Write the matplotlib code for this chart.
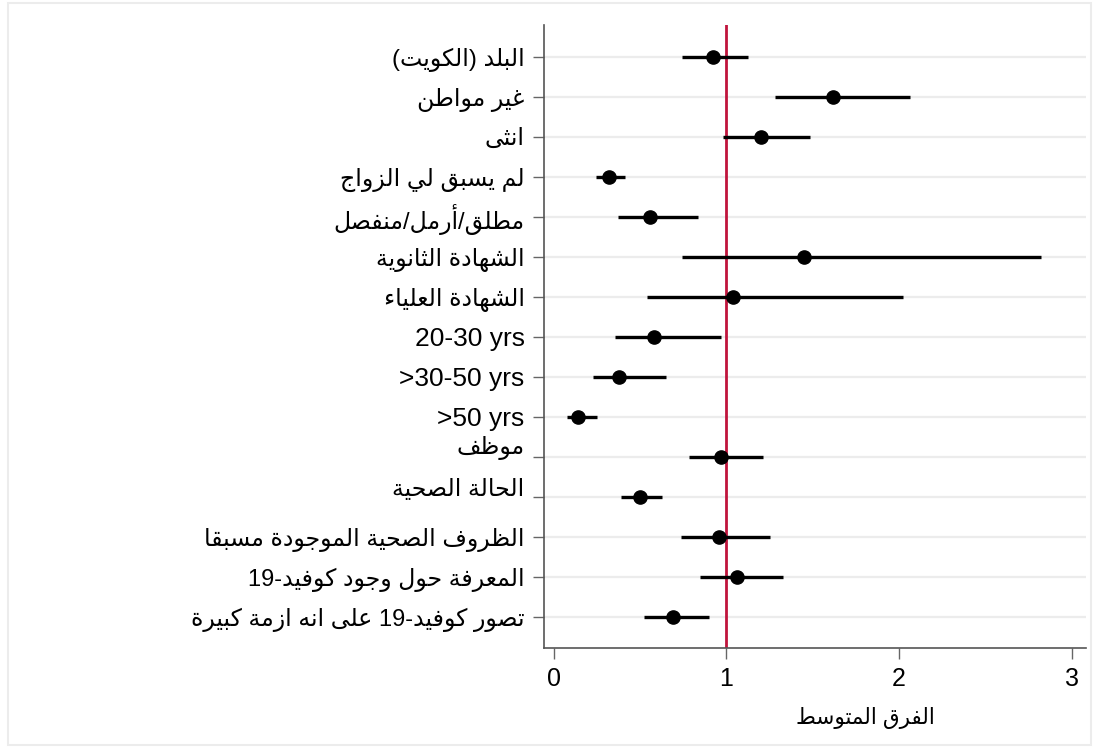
import re
import numpy as np
import matplotlib
matplotlib.use("Agg")
import matplotlib.pyplot as plt
from matplotlib.patches import Rectangle
from matplotlib.transforms import ScaledTranslation

# ---- data -------------------------------------------------------------
labels = [
    "البلد (الكويت)",
    "غير مواطن",
    "انثى",
    "لم يسبق لي الزواج",
    "مطلق/أرمل/منفصل",
    "الشهادة الثانوية",
    "الشهادة العلياء",
    "20-30 yrs",
    ">30-50 yrs",
    ">50 yrs",
    "موظف",
    "الحالة الصحية",
    "الظروف الصحية الموجودة مسبقا",
    "المعرفة حول وجود كوفيد-19",
    "تصور كوفيد-19 على انه ازمة كبيرة",
]
estimate = [0.92, 1.62, 1.20, 0.32, 0.56, 1.45, 1.04, 0.58, 0.38, 0.14,
            0.97, 0.50, 0.96, 1.06, 0.69]
ci_low = [0.745, 1.28, 0.98, 0.245, 0.375, 0.745, 0.54, 0.355, 0.23, 0.08,
          0.785, 0.39, 0.735, 0.85, 0.525]
ci_high = [1.125, 2.065, 1.485, 0.415, 0.835, 2.82, 2.02, 0.97, 0.65, 0.25,
           1.215, 0.63, 1.25, 1.325, 0.90]
x_ticks = [0, 1, 2, 3]
reference_value = 1
x_title = "الفرق المتوسط"


# ---- Arabic layout: contextual forms + right-to-left ordering -----------
_FORM_COUNTS = [
    ("\u0621", 1), ("\u0622", 2), ("\u0623", 2), ("\u0624", 2), ("\u0625", 2),
    ("\u0626", 4), ("\u0627", 2), ("\u0628", 4), ("\u0629", 2), ("\u062A", 4),
    ("\u062B", 4), ("\u062C", 4), ("\u062D", 4), ("\u062E", 4), ("\u062F", 2),
    ("\u0630", 2), ("\u0631", 2), ("\u0632", 2), ("\u0633", 4), ("\u0634", 4),
    ("\u0635", 4), ("\u0636", 4), ("\u0637", 4), ("\u0638", 4), ("\u0639", 4),
    ("\u063A", 4), ("\u0641", 4), ("\u0642", 4), ("\u0643", 4), ("\u0644", 4),
    ("\u0645", 4), ("\u0646", 4), ("\u0647", 4), ("\u0648", 2), ("\u0649", 2),
    ("\u064A", 4),
]
_FORMS = {}
_code = 0xFE80
for _ch, _n in _FORM_COUNTS:
    _FORMS[_ch] = (_code, _n)
    _code += _n

_LAM_ALEF = {"\u0622": 0xFEF5, "\u0623": 0xFEF7, "\u0625": 0xFEF9, "\u0627": 0xFEFB}
_MIRROR = {"(": ")", ")": "(", "[": "]", "]": "[", "<": ">", ">": "<"}


def _shape_word(run):
    """Contextual glyphs of one Arabic word, in visual (left-to-right) order."""
    out = []
    i = 0
    n = len(run)
    while i < n:
        ch = run[i]
        prev = run[i - 1] if i > 0 else None
        joins_prev = prev is not None and _FORMS[prev][1] == 4
        if ch == "\u0644" and i + 1 < n and run[i + 1] in _LAM_ALEF:
            out.append(chr(_LAM_ALEF[run[i + 1]] + (1 if joins_prev else 0)))
            i += 2
            continue
        base, count = _FORMS[ch]
        nxt = run[i + 1] if i + 1 < n else None
        joins_next = count == 4 and nxt is not None and _FORMS[nxt][1] >= 2
        if count == 1:
            form = 0
        elif joins_prev and joins_next:
            form = 3
        elif joins_prev:
            form = 1
        elif joins_next:
            form = 2
        else:
            form = 0
        out.append(chr(base + form))
        i += 1
    return "".join(reversed(out))


def arabic(text):
    if not re.search(r"[\u0621-\u064A]", text):
        return text
    tokens = re.findall(r"[\u0621-\u064A]+|[0-9A-Za-z.]+|.", text)
    visual = []
    for tok in reversed(tokens):
        if re.match(r"[\u0621-\u064A]", tok):
            visual.append(_shape_word(tok))
        elif re.match(r"[0-9A-Za-z]", tok):
            visual.append(tok)
        else:
            visual.append(_MIRROR.get(tok, tok))
    return "".join(visual)


def has_arabic(text):
    return re.search(r"[\u0621-\u064A]", text) is not None


# ---- figure -------------------------------------------------------------
plt.rcParams["font.family"] = ["Liberation Sans", "DejaVu Sans"]

fig = plt.figure(figsize=(10.99, 7.48), dpi=100)
fig.patches.append(Rectangle((0.007, 0.004), 0.986, 0.992, transform=fig.transFigure,
                             fill=False, edgecolor="#ececec", linewidth=1.5))
ax = fig.add_axes([0.495, 0.134, 0.493, 0.833])

rows = np.arange(1, len(labels) + 1)

for y in rows:
    ax.axhline(y, color="#ececec", linewidth=1.6, zorder=0)

ax.axvline(reference_value, color="#c0143c", linewidth=2.0, zorder=1)
ax.hlines(rows, ci_low, ci_high, color="black", linewidth=2.4, zorder=2)
ax.plot(estimate, rows, "o", color="black", markersize=9.5, zorder=3)

ax.set_xlim(-0.055, 3.08)
ax.set_ylim(15.78, 0.2)
ax.set_xticks(x_ticks)
ax.set_xticklabels([str(t) for t in x_ticks], fontsize=18)
ax.set_yticks(rows)
ax.set_yticklabels([arabic(s) for s in labels])

ax.tick_params(axis="y", length=8, width=1, color="#666666", pad=6)
ax.tick_params(axis="x", length=8, width=1, color="#666666", pad=6)

for side in ("top", "right"):
    ax.spines[side].set_visible(False)
for side in ("left", "bottom"):
    ax.spines[side].set_color("#555555")
    ax.spines[side].set_linewidth(1.2)

# Arabic and Latin labels use different faces, sized to read alike;
# two labels sit slightly above their ticks
label_lift = {10: 12, 11: 9}
for idx, tick_label in enumerate(ax.get_yticklabels()):
    tick_label.set_fontsize(17 if has_arabic(labels[idx]) else 19)
    if idx in label_lift:
        tick_label.set_transform(tick_label.get_transform()
                                 + ScaledTranslation(0, label_lift[idx] / 100, fig.dpi_scale_trans))

ax.set_xlabel(arabic(x_title), fontsize=15.5)
ax.xaxis.set_label_coords(0.593, -0.095)

fig.savefig("out.png", dpi=100)
